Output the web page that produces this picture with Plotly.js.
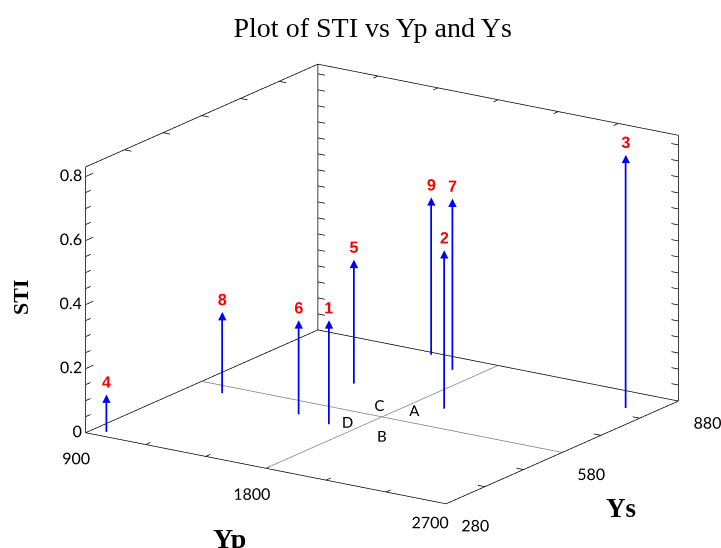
<!DOCTYPE html>
<html>
<head>
<meta charset="utf-8">
<script src="https://cdn.plot.ly/plotly-3.0.1.min.js"></script>
<style>html,body{margin:0;padding:0;background:#fff;}#chart{width:721px;height:548px;}#diag{position:absolute;left:10px;top:60px;font:12px sans-serif;color:#000;}</style>
</head>
<body>
<div id="chart"></div>
<div id="diag"></div>
<script>
window.onerror = function(m){ document.getElementById('diag').innerHTML += 'err: ' + m + '<br>'; };

// Data
const labels = ["1","2","3","4","5","6","7","8","9"];
const yp  = [1674, 1950, 2572, 965, 1443, 1492, 1676, 1064, 1485];
const ys  = [508, 663, 810, 300, 692, 524, 826, 548, 870];
const sti = [0.328, 0.498, 0.794, 0.12, 0.39, 0.297, 0.538, 0.257, 0.495];

const quadLabels = ["A", "B", "C", "D"];
const quadYp = [1862, 1951, 1702, 1724];
const quadYs = [631, 502, 624, 531];

const ypRange = [900, 2700];
const ysRange = [280, 880];
const stiRange = [0, 0.83];
const ypTicks = [900, 1800, 2700];
const ysTicks = [280, 580, 880];
const stiTicks = [0, 0.2, 0.4, 0.6, 0.8];
const stiTickText = ["0", "0.2", "0.4", "0.6", "0.8"];
const ypMid = 1800, ysMid = 580;
const stiMinorStep = 0.05, ypMinorStep = 300, ysMinorStep = 100;

// small visual offsets (in axis units) for arrowheads, labels and tick labels
const headDrop = 0.016, labelLift = 0.036;
const padFrac = 0.003;
const padRange = r => [r[0] - (r[1] - r[0]) * padFrac, r[1] + (r[1] - r[0]) * padFrac];

// stems
const sx = [], sy = [], sz = [];
for (let i = 0; i < yp.length; i++) {
  sx.push(yp[i], yp[i], null);
  sy.push(ys[i], ys[i], null);
  sz.push(0, sti[i] - headDrop, null);
}

// box edges
const [x0, x1] = ypRange, [y0, y1] = ysRange, [z0, z1] = stiRange;
const segs = [
  [[x0,y0,z0],[x1,y0,z0]], [[x1,y0,z0],[x1,y1,z0]], [[x1,y1,z0],[x0,y1,z0]], [[x0,y1,z0],[x0,y0,z0]],
  [[x0,y0,z0],[x0,y0,z1]], [[x0,y1,z0],[x0,y1,z1]], [[x1,y1,z0],[x1,y1,z1]],
  [[x0,y0,z1],[x0,y1,z1]], [[x0,y1,z1],[x1,y1,z1]]
];
// small tick marks on the box edges
const tickSegs = [];
for (let v = z0; v <= z1 + 1e-9; v += stiMinorStep) {
  const major = Math.abs(v / 0.2 - Math.round(v / 0.2)) < 1e-6;
  tickSegs.push([[x0, y0, v], [x0, y0 + (major ? 20 : 13), v]]);
  tickSegs.push([[x0, y1, v], [x0 + 35, y1, v]]);
  tickSegs.push([[x1, y1, v], [x1 - 35, y1, v]]);
}
for (let v = x0 + ypMinorStep; v < x1; v += ypMinorStep) {
  tickSegs.push([[v, y0, z0], [v, y0 + 12, z0]]);
  tickSegs.push([[v, y1, z1], [v, y1 - 12, z1]]);
}
for (let v = y0 + ysMinorStep; v < y1; v += ysMinorStep) {
  tickSegs.push([[x1, v, z0], [x1 - 35, v, z0]]);
  tickSegs.push([[x0, v, z1], [x0 + 35, v, z1]]);
}
const bx = [], by = [], bz = [];
segs.concat(tickSegs).forEach(s => { bx.push(s[0][0], s[1][0], null); by.push(s[0][1], s[1][1], null); bz.push(s[0][2], s[1][2], null); });

const tickFont = { family: 'Lato', size: 16, color: '#000' };

const traces = [
  { type: 'scatter3d', mode: 'lines', x: bx, y: by, z: bz,
    line: { color: '#000', width: 1.5 }, hoverinfo: 'skip', showlegend: false },
  { type: 'scatter3d', mode: 'lines',
    x: [ypMid, ypMid, null, x0, x1], y: [y0, y1, null, ysMid, ysMid], z: [0, 0, null, 0, 0],
    line: { color: '#808080', width: 1.5 }, hoverinfo: 'skip', showlegend: false },
  { type: 'scatter3d', mode: 'lines', x: sx, y: sy, z: sz,
    line: { color: '#0000ff', width: 3.5 }, hoverinfo: 'skip', showlegend: false },
  { type: 'scatter3d', mode: 'text', x: yp, y: ys, z: sti.map(v => v - headDrop), text: yp.map(() => '▲'),
    textposition: 'middle center',
    textfont: { family: 'DejaVu Sans', size: 11, color: '#0000ff' },
    hoverinfo: 'skip', showlegend: false },
  { type: 'scatter3d', mode: 'text', x: yp, y: ys, z: sti.map(v => v + labelLift), text: labels,
    textposition: 'middle center',
    textfont: { family: 'Liberation Sans', size: 16, color: '#ff0000', weight: 'bold' },
    hoverinfo: 'skip', showlegend: false },
  { type: 'scatter3d', mode: 'text', x: quadYp, y: quadYs, z: quadYp.map(() => 0), text: quadLabels,
    textposition: 'middle center',
    textfont: { family: 'Lato', size: 15, color: '#000' },
    hoverinfo: 'skip', showlegend: false },
  // tick labels (screen-aligned)
  { type: 'scatter3d', mode: 'text', x: stiTicks.map(() => x0 + 30), y: stiTicks.map(() => y0 + 15), z: stiTicks,
    text: stiTickText, textposition: 'middle left', textfont: tickFont, hoverinfo: 'skip', showlegend: false },
  { type: 'scatter3d', mode: 'text', x: ypTicks.map((v, i) => i < 2 ? v + 100 : v - 80),
    y: ypTicks.map(() => y0), z: ypTicks.map(() => z0),
    text: ypTicks.map(String), textposition: ['bottom left', 'bottom left', 'bottom center'],
    textfont: tickFont, hoverinfo: 'skip', showlegend: false },
  { type: 'scatter3d', mode: 'text', x: ysTicks.map(() => x1), y: ysTicks, z: ysTicks.map(() => z0),
    text: ysTicks.map(String), textposition: 'bottom right', textfont: tickFont, hoverinfo: 'skip', showlegend: false }
];

const axisCommon = {
  showbackground: false, showgrid: false, zeroline: false, showspikes: false,
  showline: false, ticks: '', showticklabels: false,
  autorange: false, title: { text: '' }
};

const t = 1.12;
const layout = {
  width: 721, height: 548,
  margin: { l: 0, r: 0, t: 0, b: 0 },
  paper_bgcolor: '#fff',
  showlegend: false,
  title: { text: 'Plot of STI vs Yp and Ys', x: 0.517, xanchor: 'center', y: 0.95, yanchor: 'middle',
           font: { family: 'Liberation Serif', size: 28, color: '#000' } },
  scene: {
    domain: { x: [0.059, 1], y: [0, 0.964] },
    bgcolor: '#fff',
    aspectmode: 'manual',
    aspectratio: { x: 1.652, y: 1.594, z: 1.06 },
    camera: { projection: { type: 'orthographic' },
              eye: { x: 0.5305 * t, y: -0.7945 * t, z: 0.2954 * t },
              up: { x: 0, y: 0, z: 1 }, center: { x: 0, y: 0, z: 0 } },
    xaxis: Object.assign({}, axisCommon, { range: padRange(ypRange), tickvals: ypTicks }),
    yaxis: Object.assign({}, axisCommon, { range: padRange(ysRange), tickvals: ysTicks }),
    zaxis: Object.assign({}, axisCommon, { range: padRange(stiRange), tickvals: stiTicks })
  },
  annotations: [
    { text: '<b>STI</b>', x: 21, y: 298, textangle: -90,
      font: { family: 'Liberation Serif', size: 22, color: '#000' } },
    { text: '<b>Yp</b>', x: 229, y: 538,
      font: { family: 'Liberation Serif', size: 28, color: '#000' } },
    { text: '<b>Ys</b>', x: 621, y: 508,
      font: { family: 'Liberation Serif', size: 27, color: '#000' } }
  ]
};
layout.annotations.forEach(a => { a.showarrow = false; a.xref = 'paper'; a.yref = 'paper'; a.x = a.x / 721; a.y = 1 - a.y / 548; a.xanchor = 'center'; a.yanchor = 'middle'; });

Plotly.newPlot('chart', traces, layout, { displayModeBar: false })
  .catch(e => { document.getElementById('diag').innerHTML += 'reject: ' + e + '<br>'; });
</script>
</body>
</html>
